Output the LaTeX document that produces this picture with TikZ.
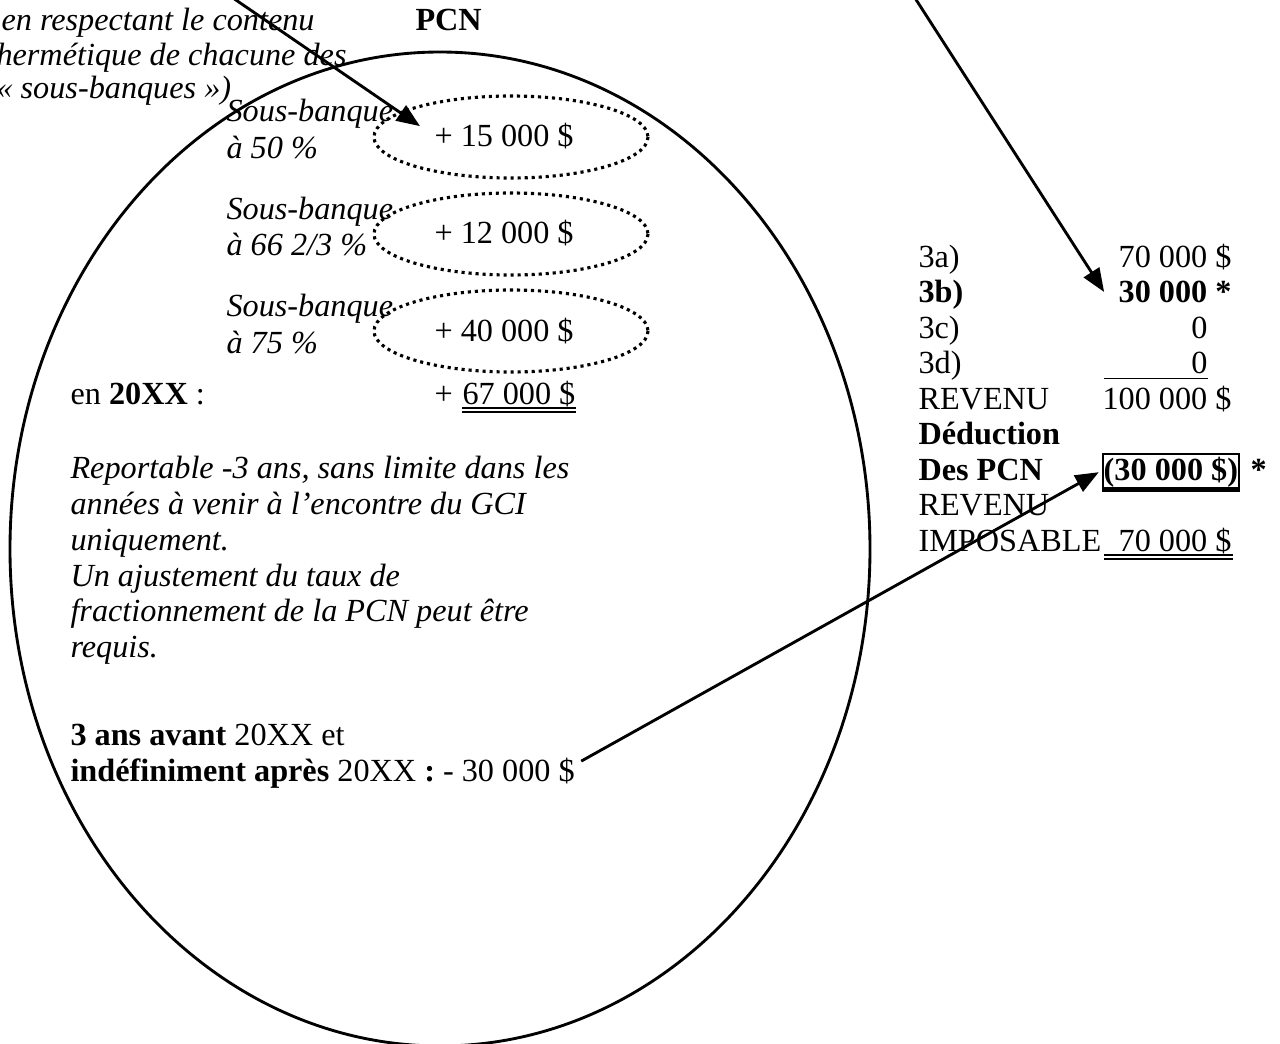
\documentclass[tikz,border=0pt]{standalone}
\usepackage{fontspec}
\setmainfont{Liberation Serif}
\usetikzlibrary{arrows.meta,calc}
\begin{document}
\begin{tikzpicture}[x=0.3846pt,y=-0.3846pt,
  txt/.style={font=\fontsize{12.4}{14}\selectfont, inner sep=0pt, anchor=base west},
  itx/.style={txt, font=\fontsize{12.4}{14}\selectfont\itshape},
  btx/.style={txt, font=\fontsize{12.4}{14}\selectfont\bfseries},
  val/.style={txt, anchor=base east},
  arr/.style={line width=1.1pt, -{Triangle[length=9pt,width=7pt]}},
  big/.style={line width=1.1pt},
  dots/.style={line width=1.2pt, dash pattern=on 1.2pt off 1.5pt},
  ul/.style={line width=0.5pt}
]
\useasboundingbox (0,0) rectangle (1280,1044);

% big ellipse
\draw[big] (440,549) ellipse [x radius=430, y radius=497];

% top-left note
\node[itx] (t1) at (1,30) {en respectant le contenu};
\node[itx] (t2) at (-4,65) {hermétique de chacune des};
\node[itx] (t3) at (-4,99) {« sous-banques »)};
\node[btx] (pcn) at (415,30) {PCN};

% sub-banks
\draw[dots] (511,137) ellipse [x radius=137, y radius=41];
\draw[dots] (511,234) ellipse [x radius=137, y radius=41];
\draw[dots] (511,331) ellipse [x radius=137, y radius=41];

\node[itx] (s1a) at (226,122) {Sous-banque};
\node[itx] (s1b) at (226,159) {à 50 \%};
\node[itx] (s2a) at (226,219) {Sous-banque};
\node[itx] (s2b) at (226,256) {à 66 2/3 \%};
\node[itx] (s3a) at (226,316) {Sous-banque};
\node[itx] (s3b) at (226,353) {à 75 \%};

\node[txt] (v1) at (434,147) {+ 15 000 \$};
\node[txt] (v2) at (434,244) {+ 12 000 \$};
\node[txt] (v3) at (434,341) {+ 40 000 \$};

\node[txt] (en) at (70,404) {en \textbf{20XX} :};
\node[txt] (plus) at (434,404) {+};
\node[txt] (totn) at (462,404) {67 000 \$};
\draw[ul] ($(totn.base west)+(0,4)$) -- ($(totn.base east)+(0,4)$);
\draw[ul] ($(totn.base west)+(0,8)$) -- ($(totn.base east)+(0,8)$);

\node[itx] (r1) at (70,478) {Reportable -3 ans, sans limite dans les};
\node[itx] (r2) at (70,514) {années à venir à l’encontre du GCI};
\node[itx] (r3) at (70,550) {uniquement.};
\node[itx] (r4) at (70,586) {Un ajustement du taux de};
\node[itx] (r5) at (70,621) {fractionnement de la PCN peut être};
\node[itx] (r6) at (70,657) {requis.};

\node[txt] (l1) at (70,745) {\textbf{3 ans avant} 20XX et};
\node[txt] (l2) at (70,781) {\textbf{indéfiniment après} 20XX \textbf{:} - 30 000 \$};

% right column
\node[txt] (k1) at (918,267) {3a)};
\node[btx] (k2) at (918,302.5) {3b)};
\node[txt] (k3) at (918,338) {3c)};
\node[txt] (k4) at (918,373.5) {3d)};
\node[txt] (k5) at (918,409) {REVENU};
\node[btx] (k6) at (918,444.5) {Déduction};
\node[btx] (k7) at (918,480) {Des PCN};
\node[txt] (k8) at (918,515.5) {REVENU};
\node[txt] (k9) at (918,551) {IMPOSABLE};

\node[val] (v3a) at (1232,267) {70 000 \$};
\node[val] (v3b) at (1232,302.5) {\textbf{30 000 *}};
\node[val] (v3c) at (1208,338) {0};
\node[val] (v3d) at (1208,373.5) {0};
\draw[ul] ($(v3d.base east)+(0,5)$) -- ($(v3d.base east)+(-104,5)$);
\node[val] (rev) at (1232,409) {100 000 \$};
\node[val, draw, line width=0.9pt, inner xsep=0.3pt, inner ysep=1pt,
      text height=9pt, text depth=3pt, font=\fontsize{12.4}{14}\selectfont\bfseries]
      (box) at (1240,480) {(30 000 \$)};
\draw[line width=1pt] ($(box.south west)+(2,-3)$) -- ($(box.south east)+(-2,-3)$);
\node[btx] (star) at (1250,480) {*};
\node[val] (imp) at (1232,551) {70 000 \$};
\draw[ul] ($(imp.base east)+(1,4)$) -- ($(imp.base east)+(-128,4)$);
\draw[ul] ($(imp.base east)+(1,8)$) -- ($(imp.base east)+(-128,8)$);

% arrows
\coordinate (a1s) at (233,-2);
\coordinate (a2s) at (915,-2);
\draw[arr] (a1s) -- ($(v1.north west)+(-14,3)$);
\draw[arr] (a2s) -- ($(v3b.west)+(-14,0)$);
\draw[arr] ($(l2.north east)+(6,4)$) -- ($(box.west)+(-3,0)$);
\end{tikzpicture}
\end{document}
